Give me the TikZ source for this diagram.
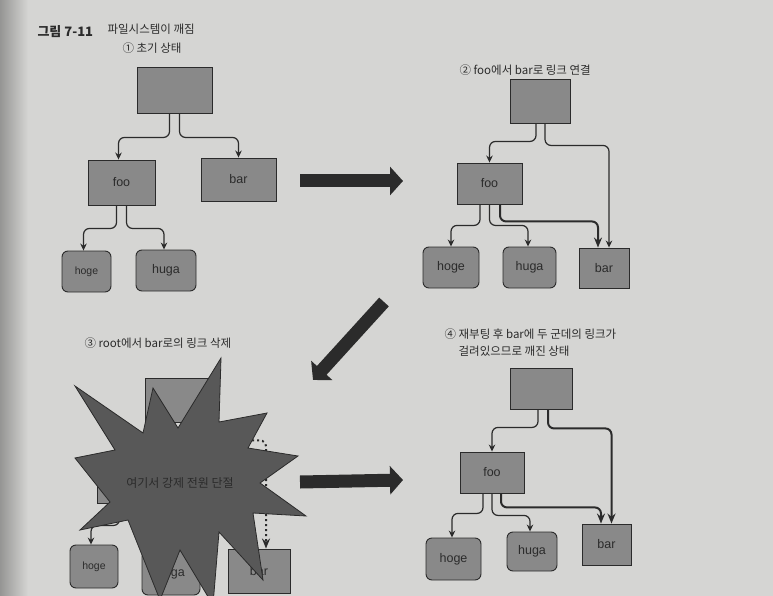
\documentclass[tikz,border=0pt]{standalone}
\usepackage{fontspec}
\setmainfont{Liberation Sans}
\newfontfamily\krfont{Noto Sans CJK KR}
\usepackage{tikz}
\usetikzlibrary{arrows.meta}
\definecolor{PageGrey}{HTML}{D5D5D3}
\definecolor{BoxGrey}{HTML}{898989}
\definecolor{StarGrey}{HTML}{585858}
\definecolor{InkGrey}{HTML}{2B2B2B}

\begin{document}
\begin{tikzpicture}[x=1pt,y=-1pt,
  dirbox/.style={draw=InkGrey, line width=0.9pt, fill=BoxGrey, text=InkGrey,
    font=\fontsize{12.5}{14}\selectfont, inner sep=0pt},
  filebox/.style={dirbox, rounded corners=6pt},
  smalltext/.style={font=\fontsize{10.5}{12}\selectfont},
  link/.style={draw=InkGrey, line width=1.2pt, rounded corners=6pt,
    -{Stealth[length=7pt,width=6.5pt]}},
  biglink/.style={link, line width=2pt, -{Stealth[length=10pt,width=8pt]}},
  gonelink/.style={biglink, dash pattern=on 2pt off 3pt},
  bigarrow/.style={draw=InkGrey, line width=13pt, -{Triangle[length=13pt,width=28pt]}},
  caption/.style={anchor=west, text=InkGrey, font=\krfont\fontsize{11.5}{17}\selectfont}]
  \useasboundingbox (0,0) rectangle (773,596);
  \clip (0,0) rectangle (773,596);
  \fill[PageGrey] (0,0) rectangle (773,596);
  \shade[left color=PageGrey!70!black, right color=PageGrey] (0,0) rectangle (28,596);

  % title
  \node[caption, font=\krfont\bfseries\fontsize{13}{15}\selectfont] (fignum) at (34,32) {그림 7-11};
  \node[caption] (figtitle) at (104,29) {파일시스템이 깨짐};

  % (1) initial state
  \node[caption] (l1) at (119,48) {① 초기 상태};
  \node[dirbox, minimum width=75pt, minimum height=46pt] (r1) at (174.5,90) {};
  \node[dirbox, minimum width=67pt, minimum height=45pt] (f1) at (121.5,182.5) {foo};
  \node[dirbox, minimum width=75pt, minimum height=43pt] (b1) at (238.5,179.5) {bar};
  \node[filebox, smalltext, minimum width=49pt, minimum height=41pt] (h1) at (86.5,271.5) {hoge};
  \node[filebox, minimum width=60pt, minimum height=41pt] (u1) at (166,270.5) {huga};
  \draw[link] ([xshift=-5pt]r1.south) -- ++(0,24) -| ([xshift=-3pt]f1.north);
  \draw[link] ([xshift=5pt]r1.south) -- ++(0,24) -| (b1.north);
  \draw[link] ([xshift=-5pt]f1.south) -- ++(0,23) -| ([xshift=-3pt]h1.north);
  \draw[link] ([xshift=5pt]f1.south) -- ++(0,23) -| ([xshift=-2pt]u1.north);

  % (2) link from foo to bar
  \node[caption] (l2) at (456,70) {② foo에서 bar로 링크 연결};
  \node[dirbox, minimum width=60pt, minimum height=44pt] (r2) at (540,101) {};
  \node[dirbox, minimum width=65pt, minimum height=41pt] (f2) at (489.5,183.5) {foo};
  \node[filebox, minimum width=56pt, minimum height=41pt] (h2) at (451,267.5) {hoge};
  \node[filebox, minimum width=53pt, minimum height=41pt] (u2) at (529.5,267.5) {huga};
  \node[dirbox, minimum width=50pt, minimum height=40pt] (b2) at (604,268) {bar};
  \draw[link] ([xshift=-4pt]r2.south) -- ++(0,18) -| (f2.north);
  \draw[link] ([xshift=5pt]r2.south) -- ++(0,22) -| ([xshift=5pt]b2.north);
  \draw[link] ([xshift=-9.5pt]f2.south) -- ++(0,21) -| (h2.north);
  \draw[link] (f2.south) -- ++(0,21) -| ([xshift=-1.5pt]u2.north);
  \draw[biglink] ([xshift=10.5pt]f2.south) -- ++(0,17) -| ([xshift=-6pt]b2.north);

  % (3) removing the link from root to bar
  \node[caption] (l3) at (81,343) {③ root에서 bar로의 링크 삭제};
  \node[dirbox, minimum width=65pt, minimum height=44pt] (r3) at (177.5,400) {};
  \node[dirbox, minimum width=65pt, minimum height=45pt] (f3) at (129.5,480.5) {};
  \node[filebox, smalltext, minimum width=48pt, minimum height=43pt] (h3) at (94,566.5) {hoge};
  \node[filebox, minimum width=58pt, minimum height=44pt] (u3) at (171,573) {huga};
  \node[dirbox, minimum width=62pt, minimum height=44pt] (b3) at (259,571) {bar};
  \draw[link] ([xshift=-5pt]r3.south) -- ++(0,18) -| (f3.north);
  \draw[gonelink] ([xshift=5pt]r3.south) -- ++(0,18) -| ([xshift=7pt]b3.north);
  \draw[link] ([xshift=-10pt]f3.south) -- ++(0,22) -| ([xshift=-3pt]h3.north);
  \draw[link] (f3.south) -- ++(0,22) -| (u3.north);
  \draw[biglink] ([xshift=10pt]f3.south) -- ++(0,17) -| ([xshift=-6pt]b3.north);
  \draw[fill=StarGrey, draw=InkGrey, line width=0.8pt]
    (221,358) -- (219,422) -- (267,413) -- (248,448) -- (298,456) -- (260,483)
    -- (306,516) -- (253,513) -- (263,580) -- (219,532) -- (213,605) -- (180,550)
    -- (160,600) -- (128,520) -- (80,530) -- (110,502) -- (75,458) -- (115,450)
    -- (75,386) -- (143,433) -- (153,388) -- (178,428) -- cycle;
  \node[text=InkGrey, font=\krfont\fontsize{12}{14}\selectfont] (cutoff) at (180,483) {여기서 강제 전원 단절};

  % (4) after reboot
  \node[caption, align=left] (l4) at (441,343)
    {④ 재부팅 후 bar에 두 군데의 링크가\\\phantom{④ }걸려있으므로 깨진 상태};
  \node[dirbox, minimum width=62pt, minimum height=41pt] (r4) at (541,388.5) {};
  \node[dirbox, minimum width=64pt, minimum height=41pt] (f4) at (492,472.5) {foo};
  \node[filebox, minimum width=55pt, minimum height=42pt] (h4) at (453.5,559) {hoge};
  \node[filebox, minimum width=50pt, minimum height=39pt] (u4) at (532,551.5) {huga};
  \node[dirbox, minimum width=49pt, minimum height=41pt] (b4) at (606.5,544.5) {bar};
  \draw[link] ([xshift=-3pt]r4.south) -- ++(0,18) -| (f4.north);
  \draw[biglink] ([xshift=7pt]r4.south) -- ++(0,19) -| ([xshift=5pt]b4.north);
  \draw[link] ([xshift=-9pt]f4.south) -- ++(0,20) -| ([xshift=-1.5pt]h4.north);
  \draw[link] (f4.south) -- ++(0,22) -| ([xshift=-2pt]u4.north);
  \draw[biglink] ([xshift=9pt]f4.south) -- ++(0,14) -| ([xshift=-5.5pt]b4.north);

  % arrows between the steps
  \coordinate (a1s) at (300,181);
  \coordinate (a1e) at (403,181);
  \coordinate (a2s) at (384,302);
  \coordinate (a2e) at (313,380);
  \coordinate (a3s) at (300,482);
  \coordinate (a3e) at (403,480);
  \draw[bigarrow] (a1s) -- (a1e);
  \draw[bigarrow] (a2s) -- (a2e);
  \draw[bigarrow] (a3s) -- (a3e);
\end{tikzpicture}
\end{document}
